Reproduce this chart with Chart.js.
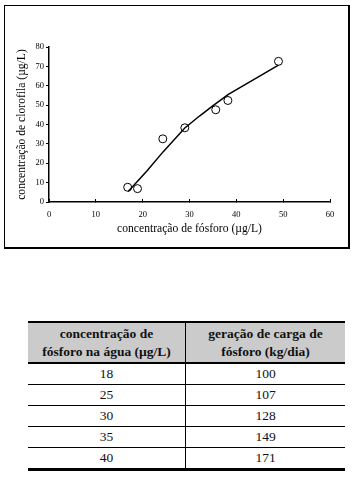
<!DOCTYPE html>
<html>
<head>
<meta charset="utf-8">
<script src="https://cdn.jsdelivr.net/npm/chart.js@4/dist/chart.umd.min.js"></script>
<style>
  html, body { margin: 0; padding: 0; background: #fff; }
  body { width: 358px; height: 478px; position: relative; overflow: hidden; font-family: "Liberation Serif", "DejaVu Serif", serif; }
  #frame { position: absolute; left: 4px; top: 5px; width: 343px; height: 241px; border: 1px solid #000; border-bottom-width: 2px; border-right-width: 2px; }
  #c { position: absolute; left: 0; top: 0; }
  table { position: absolute; left: 28px; top: 321px; width: 317px; border-collapse: collapse; color: #111; table-layout: fixed; }
  th { background: #cbcbcb; font-weight: bold; font-size: 13.5px; line-height: 18px; height: 39px; padding: 0; border-top: 2px solid #000; border-bottom: 2px solid #000; text-align: center; }
  td { font-size: 13.5px; height: 20px; padding: 0; text-align: center; border-bottom: 1px solid #000; }
  tr:last-child td { border-bottom: 3px solid #000; }
  th:first-child, td:first-child { border-right: 1px solid #000; width: 157px; }
</style>
</head>
<body>
<div id="frame"></div>
<canvas id="c" width="358" height="250"></canvas>
<table id="tbl"></table>
<script>
// Observed data points (phosphorus µg/L vs chlorophyll µg/L)
const phosphorus = [16.8, 18.9, 24.3, 29.0, 35.6, 38.2, 49.0];
const chlorophyll = [7.6, 6.9, 32.6, 38.3, 47.6, 52.4, 72.6];
// Fitted curve
const fitX = [16.9, 20.9, 24.4, 29.0, 32.2, 35.1, 38.3, 49.0];
const fitY = [5.4, 16.0, 26.0, 38.2, 44.5, 49.9, 55.6, 70.6];
// Axis ticks
const xTicks = [0, 10, 20, 30, 40, 50, 60];
const yTicks = [0, 10, 20, 30, 40, 50, 60, 70, 80];
// Table
const tableHeaders = ["concentração de<br>fósforo na água (µg/L)", "geração de carga de<br>fósforo (kg/dia)"];
const tableConc = [18, 25, 30, 35, 40];
const tableLoad = [100, 107, 128, 149, 171];

const tbl = document.getElementById('tbl');
let html = '<tr><th>' + tableHeaders[0] + '</th><th>' + tableHeaders[1] + '</th></tr>';
for (let i = 0; i < tableConc.length; i++) {
  html += '<tr><td>' + tableConc[i] + '</td><td>' + tableLoad[i] + '</td></tr>';
}
tbl.innerHTML = html;

const serif = '"Liberation Serif", "DejaVu Serif", serif';
new Chart(document.getElementById('c'), {
  type: 'scatter',
  data: {
    datasets: [
      {
        data: fitX.map((x, i) => ({ x: x, y: fitY[i] })),
        showLine: true,
        borderColor: '#000',
        borderWidth: 1.5,
        pointRadius: 0,
        tension: 0,
        fill: false
      },
      {
        data: phosphorus.map((x, i) => ({ x: x, y: chlorophyll[i] })),
        showLine: false,
        pointRadius: 4,
        pointBorderWidth: 1,
        pointBorderColor: '#000',
        pointBackgroundColor: 'rgba(255,255,255,0)'
      }
    ]
  },
  options: {
    responsive: false,
    animation: false,
    layout: { padding: { left: 0, top: 47, right: 28, bottom: 0 } },
    plugins: { legend: { display: false }, tooltip: { enabled: false } },
    scales: {
      x: {
        type: 'linear', min: 0, max: 60,
        afterFit: s => { s.height = 48; },
        afterBuildTicks: s => { s.ticks = xTicks.map(v => ({ value: v })); },
        border: { color: '#000', width: 1.5 },
        grid: { drawOnChartArea: false, drawTicks: true, tickLength: -3, color: '#000', lineWidth: 1 },
        ticks: { color: '#000', padding: 11, font: { family: serif, size: 8.5 } },
        title: { display: true, text: 'concentração de fósforo (µg/L)', color: '#000', font: { family: serif, size: 11.6 }, padding: { top: 0, bottom: 14 } }
      },
      y: {
        type: 'linear', min: 0, max: 80,
        afterFit: s => { s.width = 49; },
        afterBuildTicks: s => { s.ticks = yTicks.map(v => ({ value: v })); },
        border: { color: '#000', width: 1.5 },
        grid: { drawOnChartArea: false, drawTicks: true, tickLength: 3, color: '#000', lineWidth: 1 },
        ticks: { color: '#000', padding: 2, font: { family: serif, size: 8.5 } },
        title: { display: true, text: 'concentração de clorofila (µg/L)', color: '#000', font: { family: serif, size: 11.6 }, padding: { top: 15, bottom: 0 } }
      }
    }
  }
});
</script>
</body>
</html>
